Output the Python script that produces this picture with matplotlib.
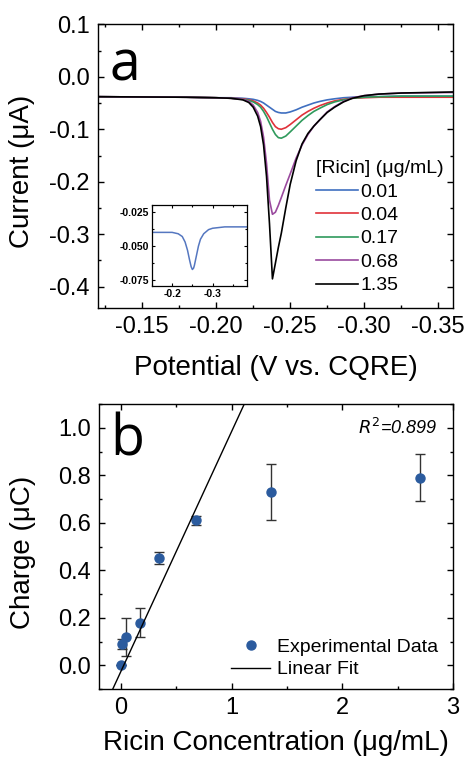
import matplotlib
matplotlib.use('Agg')
import matplotlib.pyplot as plt
from matplotlib.ticker import MultipleLocator, FormatStrFormatter

plt.rcParams['font.family'] = ['Liberation Sans', 'DejaVu Sans']
plt.rcParams['axes.unicode_minus'] = False

# ================================
# DATA - panel a (voltammograms)
# ================================
potential = [-0.120, -0.180, -0.200, -0.210, -0.218, -0.222, -0.225, -0.228, -0.230, -0.232,
             -0.234, -0.236, -0.238, -0.240, -0.242, -0.244, -0.247, -0.250, -0.254, -0.258,
             -0.262, -0.266, -0.270, -0.275, -0.280, -0.286, -0.292, -0.300, -0.310, -0.325, -0.360]

current_001 = [-0.038, -0.039, -0.040, -0.040, -0.041, -0.042, -0.043, -0.045, -0.047, -0.050,
               -0.054, -0.058, -0.062, -0.066, -0.068, -0.069, -0.069, -0.067, -0.063, -0.058,
               -0.054, -0.050, -0.047, -0.044, -0.042, -0.040, -0.039, -0.038, -0.038, -0.037, -0.037]
current_004 = [-0.038, -0.039, -0.040, -0.041, -0.042, -0.044, -0.046, -0.050, -0.054, -0.060,
               -0.068, -0.077, -0.087, -0.095, -0.099, -0.100, -0.097, -0.091, -0.082, -0.073,
               -0.066, -0.060, -0.055, -0.050, -0.046, -0.043, -0.041, -0.040, -0.039, -0.039, -0.039]
current_017 = [-0.038, -0.039, -0.040, -0.041, -0.043, -0.045, -0.048, -0.053, -0.058, -0.066,
               -0.076, -0.088, -0.100, -0.110, -0.116, -0.117, -0.113, -0.105, -0.094, -0.083,
               -0.074, -0.066, -0.060, -0.053, -0.048, -0.044, -0.041, -0.039, -0.038, -0.037, -0.037]
current_068 = [-0.038, -0.039, -0.040, -0.041, -0.043, -0.047, -0.054, -0.068, -0.085, -0.115,
               -0.165, -0.235, -0.262, -0.258, -0.245, -0.230, -0.207, -0.185, -0.155, -0.130,
               -0.110, -0.094, -0.082, -0.067, -0.057, -0.047, -0.040, -0.036, -0.033, -0.031, -0.030]
current_135 = [-0.038, -0.039, -0.040, -0.041, -0.044, -0.049, -0.058, -0.075, -0.095, -0.130,
               -0.190, -0.280, -0.385, -0.355, -0.325, -0.298, -0.250, -0.205, -0.160, -0.128,
               -0.108, -0.094, -0.082, -0.068, -0.058, -0.048, -0.041, -0.036, -0.033, -0.031, -0.029]

curves = [current_001, current_004, current_017, current_068, current_135]
conc_labels = ['0.01', '0.04', '0.17', '0.68', '1.35']
curve_colors = ['#3f6fc0', '#e0323a', '#2f9a5c', '#9a4a9e', 'black']

# inset
inset_potential = [-0.150, -0.200, -0.215, -0.225, -0.232, -0.238, -0.243, -0.247, -0.250,
                   -0.253, -0.255, -0.260, -0.265, -0.270, -0.278, -0.290, -0.300, -0.330, -0.385]
inset_current = [-0.040, -0.040, -0.041, -0.043, -0.047, -0.053, -0.060, -0.065, -0.067,
                 -0.066, -0.064, -0.057, -0.050, -0.045, -0.041, -0.038, -0.037, -0.036, -0.036]

# ================================
# DATA - panel b (charge vs concentration)
# ================================
ricin_conc = [0.0, 0.01, 0.04, 0.17, 0.34, 0.68, 1.35, 2.70]
charge = [0.00, 0.09, 0.12, 0.18, 0.45, 0.61, 0.73, 0.79]
charge_err = [0.0, 0.02, 0.08, 0.06, 0.025, 0.02, 0.117, 0.10]

fit_slope = 1.01
fit_intercept = -0.024
fit_x = [-0.08, 1.12]
r_squared = '0.899'

# ================================
# FIGURE
# ================================
fig = plt.figure(figsize=(4.66, 7.58), dpi=100)
ax1 = fig.add_axes([0.210, 0.594, 0.762, 0.374])
ax2 = fig.add_axes([0.2124, 0.091, 0.760, 0.376])


def style_axis(ax):
    ax.tick_params(which='both', direction='in', top=True, right=True, width=1.0)
    ax.tick_params(which='major', length=4, labelsize=17, pad=6)
    ax.tick_params(which='minor', length=2.5)
    for s in ax.spines.values():
        s.set_linewidth(1.0)


# ---------- panel a ----------
for cur, lab, col in zip(curves, conc_labels, curve_colors):
    ax1.plot(potential, cur, color=col, lw=1.2, label=lab)

ax1.set_xlim(-0.12, -0.36)
ax1.set_ylim(-0.44, 0.1)
ax1.xaxis.set_major_locator(MultipleLocator(0.05))
ax1.xaxis.set_minor_locator(MultipleLocator(0.025))
ax1.yaxis.set_major_locator(MultipleLocator(0.1))
ax1.yaxis.set_minor_locator(MultipleLocator(0.05))
ax1.xaxis.set_major_formatter(FormatStrFormatter('%.2f'))
ax1.yaxis.set_major_formatter(FormatStrFormatter('%.1f'))
style_axis(ax1)
ax1.set_xlabel('Potential (V vs. CQRE)', fontsize=20, va='top')
ax1.set_ylabel('Current (\u03bcA)', fontsize=20, va='center')
ax1.xaxis.set_label_coords(0.5, -0.165)
ax1.yaxis.set_label_coords(-0.215, 0.48)
ax1.text(0.034, 0.803, 'a', transform=ax1.transAxes, fontsize=40,
         family='Open Sans', va='baseline', ha='left')

leg1 = ax1.legend(title='[Ricin] (\u03bcg/mL)', loc='upper left', bbox_to_anchor=(0.588, 0.555),
                  frameon=False, fontsize=14, title_fontsize=14, handlelength=2.15,
                  handletextpad=0.1, labelspacing=0.3, borderpad=0, alignment='left')

# inset
axin = fig.add_axes([0.326, 0.6227, 0.204, 0.107])
axin.plot(inset_potential, inset_current, color='#5577c0', lw=1.1)
axin.set_xlim(-0.15, -0.385)
axin.set_ylim(-0.079, -0.020)
axin.xaxis.set_major_locator(MultipleLocator(0.1))
axin.xaxis.set_minor_locator(MultipleLocator(0.05))
axin.yaxis.set_major_locator(MultipleLocator(0.025))
axin.yaxis.set_minor_locator(MultipleLocator(0.0125))
axin.xaxis.set_major_formatter(FormatStrFormatter('%.1f'))
axin.yaxis.set_major_formatter(FormatStrFormatter('%.3f'))
axin.tick_params(which='both', direction='in', top=True, right=True, width=0.8)
axin.tick_params(which='major', length=2.5, labelsize=7.5, pad=2)
axin.tick_params(which='minor', length=1.5)
for t in axin.get_xticklabels() + axin.get_yticklabels():
    t.set_fontweight('bold')
for s in axin.spines.values():
    s.set_linewidth(0.9)

# ---------- panel b ----------
ax2.errorbar(ricin_conc, charge, yerr=charge_err, fmt='none', ecolor='#333333',
             elinewidth=1.0, capsize=3.5, capthick=1.0)
ax2.plot(ricin_conc, charge, 'o', color='#2b5b9e', markersize=6.5, label='Experimental Data')
fit_y = [fit_slope * x + fit_intercept for x in fit_x]
ax2.plot(fit_x, fit_y, color='black', lw=1.0, label='Linear Fit')

ax2.set_xlim(-0.2, 3)
ax2.set_ylim(-0.1, 1.1)
ax2.xaxis.set_major_locator(MultipleLocator(1))
ax2.xaxis.set_minor_locator(MultipleLocator(0.5))
ax2.yaxis.set_major_locator(MultipleLocator(0.2))
ax2.yaxis.set_minor_locator(MultipleLocator(0.1))
ax2.yaxis.set_major_formatter(FormatStrFormatter('%.1f'))
style_axis(ax2)
ax2.set_xlabel('Ricin Concentration (\u03bcg/mL)', fontsize=20, va='top')
ax2.set_ylabel('Charge (\u03bcC)', fontsize=20, va='center')
ax2.xaxis.set_label_coords(0.5, -0.145)
ax2.yaxis.set_label_coords(-0.215, 0.48)
ax2.text(0.031, 0.821, 'b', transform=ax2.transAxes, fontsize=40,
         family='Open Sans', va='baseline', ha='left')
ax2.text(0.955, 0.915, '$R^2$=' + r_squared, transform=ax2.transAxes, fontsize=13,
         style='italic', ha='right', va='center')

ax2.legend(loc='lower right', bbox_to_anchor=(0.985, 0.003), frameon=False, fontsize=14,
           handlelength=2.0, handletextpad=0.35, labelspacing=0.25, borderpad=0)

plt.savefig('out.png', dpi=100)
